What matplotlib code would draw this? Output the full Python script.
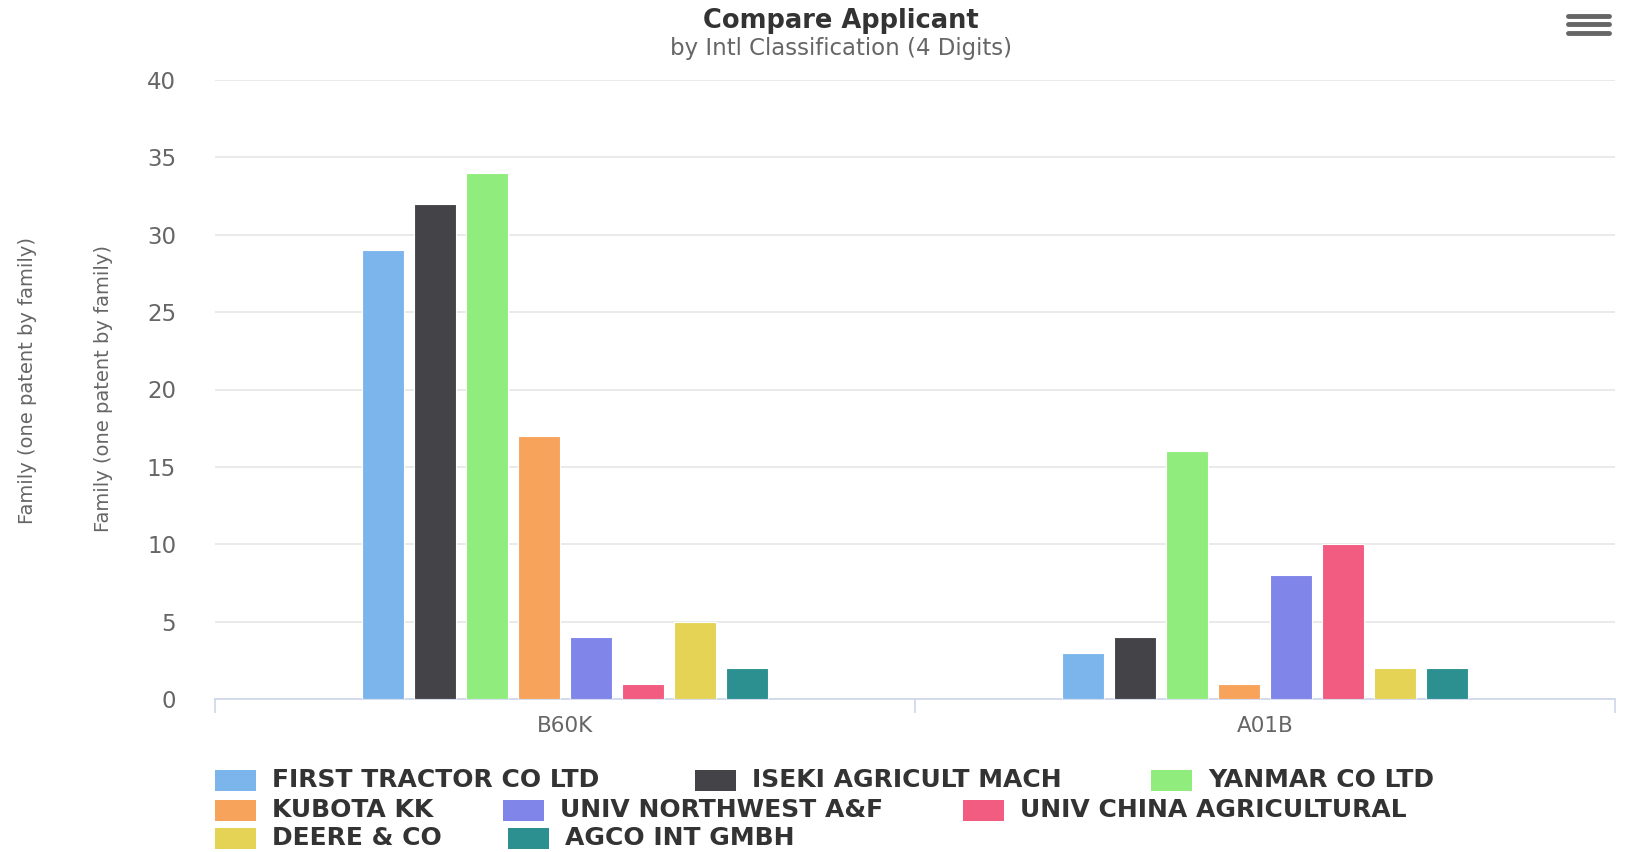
import numpy as np
import matplotlib.pyplot as plt
from matplotlib.patches import Rectangle
from matplotlib.lines import Line2D

categories = ["B60K", "A01B"]
applicants = ["FIRST TRACTOR CO LTD", "ISEKI AGRICULT MACH", "YANMAR CO LTD",
              "KUBOTA KK", "UNIV NORTHWEST A&F", "UNIV CHINA AGRICULTURAL",
              "DEERE & CO", "AGCO INT GMBH"]
b60k = [29, 32, 34, 17, 4, 1, 5, 2]
a01b = [3, 4, 16, 1, 8, 10, 2, 2]
colors = ["#7cb5ec", "#434348", "#90ed7d", "#f7a35c",
          "#8085e9", "#f15c80", "#e4d354", "#2b908f"]

W, H = 1629, 852
fig = plt.figure(figsize=(W / 100, H / 100), dpi=100)
# plot area in pixels: x 215..1615, y 80..699
ax = fig.add_axes([215 / W, 1 - 699 / H, 1400 / W, 619 / H])

slot = 52 / 700
bw = 41.5 / 700
xc = np.array([0.5, 1.5])
for i, name in enumerate(applicants):
    vals = [b60k[i], a01b[i]]
    ax.bar(xc + (i - 3.5) * slot, vals, width=bw, color=colors[i],
           edgecolor='white', linewidth=0.8, zorder=3)

ax.set_xlim(0, 2)
ax.set_ylim(0, 40)
ax.set_yticks(range(0, 41, 5))
ax.yaxis.grid(True, color='#e6e6e6', linewidth=1.2, zorder=0)
ax.tick_params(axis='y', length=0, pad=28, labelsize=16.5, labelcolor='#666666')
ax.set_xticks([0, 1, 2])
ax.set_xticklabels([])
ax.set_xticks(xc, minor=True)
ax.set_xticklabels(categories, minor=True)
ax.tick_params(axis='x', which='major', length=10, color='#ccd6eb', width=1.2)
ax.tick_params(axis='x', which='minor', length=0, pad=12, labelsize=15.5, labelcolor='#666666')
for s in ['top', 'right', 'left']:
    ax.spines[s].set_visible(False)
ax.spines['bottom'].set_color('#ccd6eb')
ax.spines['bottom'].set_linewidth(1.2)

fig.text(841 / W, 1 - 21 / H, "Compare Applicant", ha='center', va='center',
         fontsize=18.5, fontweight='bold', color='#333333')
fig.text(841 / W, 1 - 49 / H, "by Intl Classification (4 Digits)", ha='center',
         va='center', fontsize=16.5, color='#666666')

fig.text(28 / W, 1 - 380 / H, "Family (one patent by family)", rotation=90,
         ha='center', va='center', fontsize=14, color='#666666')
fig.text(104 / W, 1 - 389 / H, "Family (one patent by family)", rotation=90,
         ha='center', va='center', fontsize=14, color='#666666')

# legend, laid out like the flowing highcharts legend
legend_pos = [(215, 780), (695, 780), (1151, 780),
              (215, 810), (503, 810), (963, 810),
              (215, 838), (508, 838)]
for (lx, ly), name, c in zip(legend_pos, applicants, colors):
    fig.patches.append(Rectangle((lx / W, 1 - (ly + 10.5) / H), 41 / W, 21 / H,
                                 transform=fig.transFigure, facecolor=c,
                                 edgecolor='none'))
    fig.text((lx + 57) / W, 1 - ly / H, name, ha='left', va='center',
             fontsize=18, fontweight='bold', color='#333333')

# menu icon
for yy in [16, 24, 33]:
    fig.lines.append(Line2D([1568 / W, 1609 / W], [1 - yy / H, 1 - yy / H],
                            transform=fig.transFigure, color='#666666',
                            linewidth=3.5, solid_capstyle='round'))

fig.savefig("out.png", dpi=100)
